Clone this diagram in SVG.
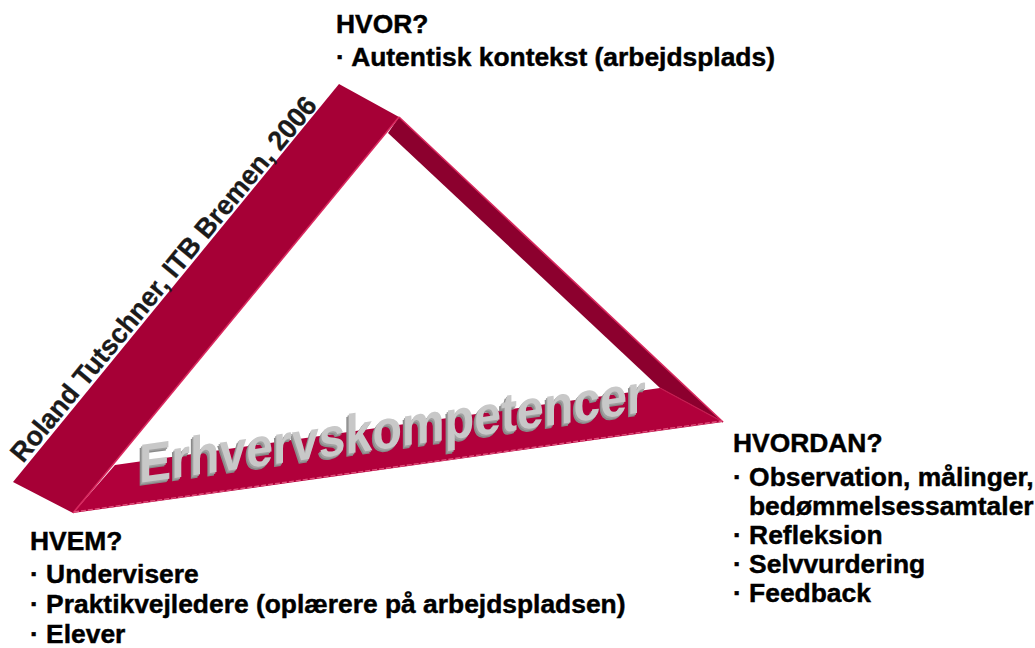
<svg xmlns="http://www.w3.org/2000/svg" width="1035" height="648" viewBox="0 0 1035 648">
<style>
.lbl{font-family:"Liberation Sans",Arial,Helvetica,sans-serif;font-weight:bold;font-size:26.4px;fill:#000;stroke:#000;stroke-width:0.45}
.author{font-family:"Liberation Sans",Arial,Helvetica,sans-serif;font-weight:bold;font-size:27.5px;fill:#1a1a1a;stroke:#1a1a1a;stroke-width:0.3}
.title{font-family:"Liberation Sans",Arial,Helvetica,sans-serif;font-weight:bold;font-size:55px}
</style>
<rect width="1035" height="648" fill="#ffffff"/>
<g id="frame">
  <polygon id="band-right" points="399,117 723,422 660,388 388,133" fill="#8c002e"/>
  <polygon id="band-bottom" points="115,465 660,388 723,422 73,513" fill="#b1003b"/>
  <polygon id="band-left" points="339,84 399,117 73,513 13,482" fill="#a60036"/>
  <line x1="399" y1="117" x2="73" y2="513" stroke="#d8285e" stroke-width="1.6"/>
  <line x1="399" y1="117" x2="723" y2="422" stroke="#d8285e" stroke-width="1.6"/>
  <line x1="660" y1="388" x2="723" y2="422" stroke="#c41a4f" stroke-width="1.2"/>
  <line x1="74" y1="512" x2="722" y2="421" stroke="#e0507c" stroke-width="1.4" stroke-dasharray="5 2"/>
</g>
<g id="title" transform="matrix(0.990,-0.139,0,1,139,483)">
  <text class="title" x="-2.5" y="3" textLength="512" lengthAdjust="spacingAndGlyphs" fill="#8a8a8a">Erhvervskompetencer</text>
  <text class="title" x="-1.2" y="1.5" textLength="512" lengthAdjust="spacingAndGlyphs" fill="#a0a0a0">Erhvervskompetencer</text>
  <text class="title" x="0" y="0" textLength="512" lengthAdjust="spacingAndGlyphs" fill="#c8c8c8">Erhvervskompetencer</text>
</g>
<g id="author" transform="translate(23,464) rotate(-50.5)">
  <text class="author" x="0" y="0" textLength="464" lengthAdjust="spacingAndGlyphs">Roland Tutschner, ITB Bremen, 2006</text>
</g>
<g id="hvor">
  <text class="lbl" x="336" y="33">HVOR?</text>
  <text class="lbl" x="336" y="66">· Autentisk kontekst (arbejdsplads)</text>
</g>
<g id="hvordan">
  <text class="lbl" x="733" y="452">HVORDAN?</text>
  <text class="lbl" x="733" y="486">· Observation, målinger,</text>
  <text class="lbl" x="749" y="515">bedømmelsessamtaler</text>
  <text class="lbl" x="733" y="544">· Refleksion</text>
  <text class="lbl" x="733" y="573">· Selvvurdering</text>
  <text class="lbl" x="733" y="602">· Feedback</text>
</g>
<g id="hvem">
  <text class="lbl" x="30" y="550">HVEM?</text>
  <text class="lbl" x="30" y="583">· Undervisere</text>
  <text class="lbl" x="30" y="613">· Praktikvejledere (oplærere på arbejdspladsen)</text>
  <text class="lbl" x="30" y="643">· Elever</text>
</g>
</svg>
